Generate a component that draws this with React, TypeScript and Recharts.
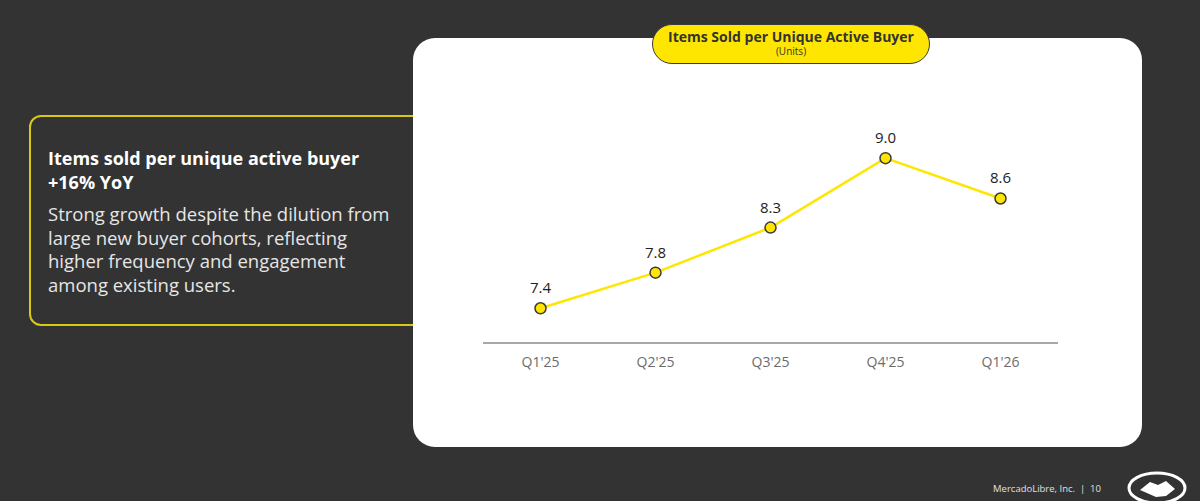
import React from 'react';
import { LineChart, Line, XAxis, YAxis, LabelList } from 'recharts';

const quarters = ["Q1'25", "Q2'25", "Q3'25", "Q4'25", "Q1'26"];
const itemsPerBuyer = [7.4, 7.78, 8.26, 9.0, 8.57];

const data = quarters.map((q, i) => ({ quarter: q, value: itemsPerBuyer[i] }));

const FONT = '"Open Sans", Lato, sans-serif';
const YELLOW = '#FFE600';
const BG = '#333333';

const App: React.FC = () => {
  return (
    <div
      style={{
        position: 'absolute',
        left: 0,
        top: 0,
        width: 1200,
        height: 501,
        background: BG,
        fontFamily: FONT,
        overflow: 'hidden',
      }}
    >
      {/* left callout box */}
      <div
        style={{
          position: 'absolute',
          left: 29,
          top: 115,
          width: 420,
          height: 211,
          border: '2px solid #D9C814',
          borderRadius: 12,
          boxSizing: 'border-box',
        }}
      />
      <div style={{ position: 'absolute', left: 48, top: 146, width: 370, color: '#fff', whiteSpace: 'nowrap' }}>
        <div style={{ fontWeight: 700, fontSize: 18, lineHeight: '24px' }}>
          Items sold per unique active buyer
          <br />
          +16% YoY
        </div>
        <div style={{ fontSize: 18.5, lineHeight: '23.7px', color: '#e6e6e6', marginTop: 8 }}>
          Strong growth despite the dilution from
          <br />
          large new buyer cohorts, reflecting
          <br />
          higher frequency and engagement
          <br />
          among existing users.
        </div>
      </div>

      {/* white card */}
      <div
        style={{
          position: 'absolute',
          left: 413,
          top: 38,
          width: 729,
          height: 409,
          background: '#fff',
          borderRadius: 22,
        }}
      >
        <LineChart
          width={729}
          height={409}
          data={data}
          margin={{ top: 92, right: 84, bottom: 74, left: 70 }}
        >
          <XAxis
            dataKey="quarter"
            axisLine={{ stroke: '#a8a8a8', strokeWidth: 2 }}
            tickLine={false}
            tick={{ fill: '#6b6b6b', fontSize: 14, fontFamily: FONT }}
            tickMargin={8}
            height={30}
            interval={0}
            padding={{ left: 57.5, right: 57.5 }}
          />
          <YAxis hide domain={[7.03, 9.3]} />
          <Line
            dataKey="value"
            type="linear"
            stroke={YELLOW}
            strokeWidth={2.5}
            dot={{ r: 5.5, fill: YELLOW, stroke: '#3a3a3a', strokeWidth: 1.5 }}
            isAnimationActive={false}
          >
            <LabelList
              dataKey="value"
              position="top"
              offset={15}
              formatter={(v: any) => Number(v).toFixed(1)}
              style={{ fill: '#222', fontSize: 15, fontFamily: FONT }}
            />
          </Line>
        </LineChart>
      </div>

      {/* title pill */}
      <div
        style={{
          position: 'absolute',
          left: 652,
          top: 24,
          width: 278,
          height: 40,
          background: YELLOW,
          border: '1.5px solid #3a3a3a',
          borderRadius: 20,
          boxSizing: 'border-box',
          textAlign: 'center',
          color: '#333',
          whiteSpace: 'nowrap',
        }}
      >
        <div style={{ fontWeight: 700, fontSize: 14, lineHeight: '16px', marginTop: 4 }}>
          Items Sold per Unique Active Buyer
        </div>
        <div style={{ fontSize: 10, lineHeight: '13px' }}>(Units)</div>
      </div>

      {/* footer */}
      <div
        style={{
          position: 'absolute',
          right: 99,
          top: 482,
          fontSize: 9.5,
          color: '#e0e0e0',
          whiteSpace: 'nowrap',
        }}
      >
        MercadoLibre, Inc.&nbsp;&nbsp;|&nbsp;&nbsp;10
      </div>
      <svg style={{ position: 'absolute', left: 1126, top: 470 }} width={62} height={36}>
        <ellipse cx={31} cy={18} rx={28} ry={15} fill="none" stroke="#fff" strokeWidth={3} />
        <path d="M14 20 L24 12 L32 15 L40 11 L49 19 L40 26 L30 27 Z" fill="#fff" />
      </svg>
    </div>
  );
};

export default App;
